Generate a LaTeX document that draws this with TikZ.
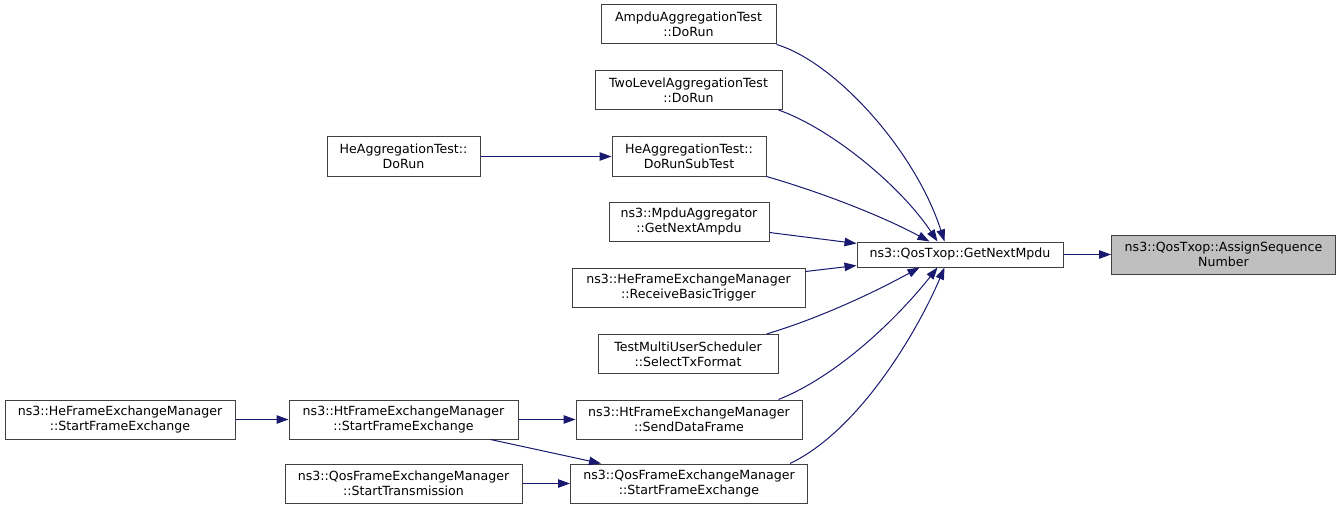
\documentclass[tikz,border=0pt]{standalone}
\usepackage{fontspec}
\setmainfont{DejaVu Sans}
\usetikzlibrary{arrows.meta}
\definecolor{edgecol}{HTML}{191970}
\definecolor{bordercol}{HTML}{404040}
\definecolor{rootfill}{HTML}{BFBFBF}
\begin{document}
\begin{tikzpicture}[x=1pt,y=-1pt,
  box/.style={draw=bordercol, line width=1pt, fill=white, minimum height=39pt, inner sep=0pt, align=center, font=\fontsize{12.6}{15}\selectfont},
  call/.style={draw=edgecol, line width=1pt, -{Triangle[length=12pt,width=8.5pt,fill=edgecol]}}]
\useasboundingbox[fill=white] (0,0) rectangle (1341,508);

\node[box, minimum width=175pt] (amp) at (688.5,24.5) {AmpduAggregationTest\\::DoRun};
\node[box, minimum width=187pt] (two) at (688.5,90) {TwoLevelAggregationTest\\::DoRun};
\node[box, minimum width=154pt] (sub) at (689,156.5) {HeAggregationTest::\\DoRunSubTest};
\node[box, minimum width=153pt] (hed) at (403.5,156.5) {HeAggregationTest::\\DoRun};
\node[box, minimum width=160pt] (mpdu) at (689,221.5) {ns3::MpduAggregator\\::GetNextAmpdu};
\node[box, minimum width=233pt] (rbt) at (688.5,287.5) {ns3::HeFrameExchangeManager\\::ReceiveBasicTrigger};
\node[box, minimum width=180pt] (sel) at (688,354) {TestMultiUserScheduler\\::SelectTxFormat};
\node[box, minimum width=226pt] (sdf) at (689,419.5) {ns3::HtFrameExchangeManager\\::SendDataFrame};
\node[box, minimum width=237pt] (qsfe) at (689,483.5) {ns3::QosFrameExchangeManager\\::StartFrameExchange};
\node[box, minimum width=229pt] (htsfe) at (403.5,419.5) {ns3::HtFrameExchangeManager\\::StartFrameExchange};
\node[box, minimum width=230pt] (hesfe) at (120,419.5) {ns3::HeFrameExchangeManager\\::StartFrameExchange};
\node[box, minimum width=237pt] (qst) at (403.5,483.5) {ns3::QosFrameExchangeManager\\::StartTransmission};
\node[box, minimum width=206pt, minimum height=25pt] (gnm) at (960,254.5) {ns3::QosTxop::GetNextMpdu};
\node[box, minimum width=224pt, fill=rootfill] (asn) at (1223.5,254.5) {ns3::QosTxop::AssignSequence\\Number};

% edges
\draw[call] (gnm.east) -- (asn.west);
\draw[call] (hed.east) -- (sub.west);
\draw[call] (hesfe.east) -- (htsfe.west);
\draw[call] (htsfe.east) -- (sdf.west);
\draw[call] (qst.east) -- (qsfe.west);
\draw[call] ([xshift=-28pt]htsfe.south east) -- ([xshift=31pt]qsfe.north west);

\draw[call] (amp.south east) .. controls (835,62) and (915,150) .. ([xshift=88pt]gnm.north west);
\draw[call] ([xshift=-4pt]two.south east) .. controls (830,128) and (900,185) .. ([xshift=81pt]gnm.north west);
\draw[call] (sub.south east) .. controls (820,192) and (880,215) .. ([xshift=73pt]gnm.north west);
\draw[call] ([yshift=9pt]mpdu.south east) -- ([yshift=-2pt]gnm.north west);
\draw[call] ([yshift=-4pt]rbt.north east) -- ([yshift=2pt]gnm.south west);
\draw[call] ([xshift=-12pt]sel.north east) .. controls (820,318) and (875,292) .. ([xshift=63pt]gnm.south west);
\draw[call] ([xshift=-24pt]sdf.north east) .. controls (840,375) and (900,315) .. ([xshift=81pt]gnm.south west);
\draw[call] ([xshift=-18pt]qsfe.north east) .. controls (860,430) and (918,330) .. ([xshift=88pt]gnm.south west);
\end{tikzpicture}
\end{document}
